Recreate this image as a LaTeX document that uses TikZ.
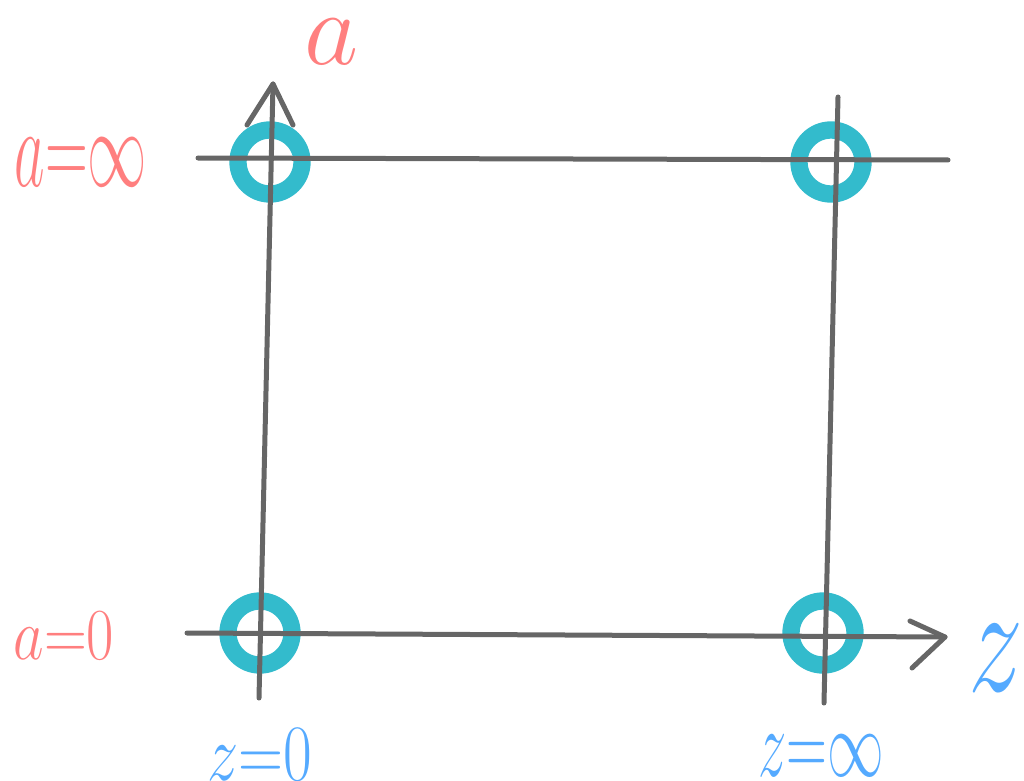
\documentclass[tikz,border=0pt]{standalone}
\usepackage{fix-cm}
\usepackage{graphicx}
\definecolor{axisgray}{HTML}{666666}
\definecolor{ringteal}{HTML}{33BBCC}
\definecolor{labred}{HTML}{FF7F7F}
\definecolor{labblue}{HTML}{55AAFF}
\begin{document}
\begin{tikzpicture}[x=0.75pt,y=-0.75pt,
  ring/.style={circle,draw=ringteal,line width=13pt,minimum size=48pt,inner sep=0pt},
  axisline/.style={draw=axisgray,line width=3.75pt,line cap=round,line join=round},
  redlab/.style={text=labred,inner sep=0pt},
  bluelab/.style={text=labblue,inner sep=0pt}]
\useasboundingbox (0,0) rectangle (1024,781);
% rings
\node[ring] (rtl) at (270,162) {};
\node[ring] (rtr) at (831,162) {};
\node[ring] (rbl) at (260,633) {};
\node[ring] (rbr) at (823,633) {};
% axis coordinates
\coordinate (topL) at (198,158);
\coordinate (topR) at (948,160);
\coordinate (botL) at (187,633);
\coordinate (botR) at (945,637);
\coordinate (botA1) at (910,621);
\coordinate (botA2) at (912,668);
\coordinate (lefB) at (259,698);
\coordinate (lefT) at (273,84);
\coordinate (lefA1) at (247,125);
\coordinate (lefA2) at (293,125);
\coordinate (rigT) at (838,97);
\coordinate (rigB) at (824,703);
% lines
\draw[axisline] (topL) -- (topR);
\draw[axisline] (botL) -- (botR);
\draw[axisline] (botA1) -- (botR) -- (botA2);
\draw[axisline] (lefB) -- (lefT);
\draw[axisline] (lefA1) -- (lefT) -- (lefA2);
\draw[axisline] (rigT) -- (rigB);
% labels
\node[redlab] (la) at (332,42) {\fontsize{79}{79}\selectfont$a$};
\node[redlab] (lainf) at (81,162) {\fontsize{84}{84}\selectfont\scalebox{0.53}[1]{$a{=}\infty$}};
\node[redlab] (lazero) at (64,636) {\fontsize{55}{55}\selectfont\scalebox{0.81}[1]{$a{=}0$}};
\node[bluelab] (lzzero) at (260,755) {\fontsize{60}{60}\selectfont\scalebox{0.78}[1]{$z{=}0$}};
\node[bluelab] (lzinf) at (821,756) {\fontsize{72}{72}\selectfont\scalebox{0.59}[1]{$z{=}\infty$}};
\node[bluelab] (lz) at (996,658) {\fontsize{116}{116}\selectfont\scalebox{0.71}[1]{$z$}};
\end{tikzpicture}
\end{document}
